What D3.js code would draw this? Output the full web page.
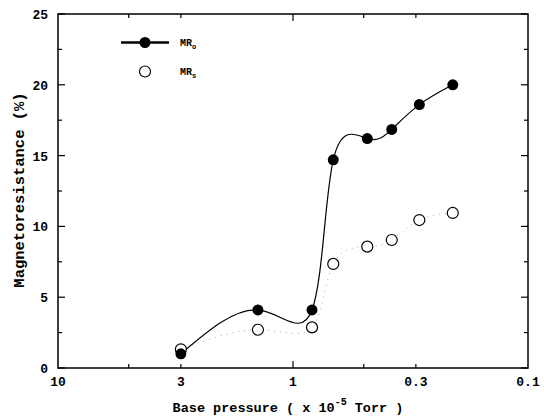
<!DOCTYPE html>
<html>
<head>
<meta charset="utf-8">
<script src="https://cdn.jsdelivr.net/npm/d3@7"></script>
<style>
body { margin: 0; background: #fff; }
text { font-family: "Liberation Mono", "DejaVu Sans Mono", monospace; font-weight: bold; }
</style>
</head>
<body>
<svg></svg>
<script>
// data
var pressure = [3, 1.41, 0.83, 0.674, 0.483, 0.38, 0.29, 0.209];
var mrO = [1.0, 4.1, 4.1, 14.7, 16.2, 16.85, 18.6, 20.0];
var mrS = [1.32, 2.7, 2.87, 7.35, 8.57, 9.04, 10.45, 10.95];
var xLabelTicks = [10, 3, 1, 0.3, 0.1];
var xMinorTicks = [5, 3, 0.5, 0.3];
var yTicks = [0, 5, 10, 15, 20, 25];
var yMinor = [2.5, 7.5, 12.5, 17.5, 22.5];

var svg = d3.select("svg")
    .attr("width", 544)
    .attr("height", 418);

var pLeft = 58, pRight = 528, pTop = 14, pBottom = 368;

var xScale = d3.scaleLog().domain([10, 0.1]).range([pLeft, pRight]),
    yScale = d3.scaleLinear().domain([0, 25]).range([pBottom, pTop]);

// frame
svg.append("rect")
    .attr("x", pLeft).attr("y", pTop)
    .attr("width", pRight - pLeft).attr("height", pBottom - pTop)
    .style("fill", "none").style("stroke", "#000").style("stroke-width", 1.5);

// x ticks (inward, bottom and top)
var xt = xMinorTicks.map(function(v){ return [v, 4]; }).concat([[1, 7]]);
xt.forEach(function(t){
    svg.append("line")
        .attr("x1", xScale(t[0])).attr("x2", xScale(t[0]))
        .attr("y1", pBottom).attr("y2", pBottom - t[1])
        .style("stroke", "#000").style("stroke-width", 1.2);
    svg.append("line")
        .attr("x1", xScale(t[0])).attr("x2", xScale(t[0]))
        .attr("y1", pTop).attr("y2", pTop + t[1])
        .style("stroke", "#000").style("stroke-width", 1.2);
});

// y ticks (inward, left and right)
var yt = yTicks.map(function(v){ return [v, 7]; }).concat(yMinor.map(function(v){ return [v, 4]; }));
yt.forEach(function(t){
    svg.append("line")
        .attr("x1", pLeft).attr("x2", pLeft + t[1])
        .attr("y1", yScale(t[0])).attr("y2", yScale(t[0]))
        .style("stroke", "#000").style("stroke-width", 1.2);
    svg.append("line")
        .attr("x1", pRight).attr("x2", pRight - t[1])
        .attr("y1", yScale(t[0])).attr("y2", yScale(t[0]))
        .style("stroke", "#000").style("stroke-width", 1.2);
});

// tick labels
svg.selectAll(".xl")
    .data(xLabelTicks)
    .enter()
    .append("text")
    .attr("x", function(d){ return xScale(d); })
    .attr("y", 386)
    .attr("text-anchor", "middle")
    .style("font-size", "13px")
    .text(function(d){ return d; });

svg.selectAll(".yl")
    .data(yTicks)
    .enter()
    .append("text")
    .attr("x", 48)
    .attr("y", function(d){ return yScale(d) + 5; })
    .attr("text-anchor", "end")
    .style("font-size", "13px")
    .text(function(d){ return d; });

// axis titles
var xt2 = svg.append("text")
    .attr("x", 288)
    .attr("y", 412)
    .attr("text-anchor", "middle")
    .style("font-size", "13.5px");
xt2.append("tspan").text("Base pressure ( x 10");
xt2.append("tspan").attr("dy", -7).style("font-size", "10px").text("-5");
xt2.append("tspan").attr("dy", 7).text(" Torr )");

svg.append("text")
    .attr("text-anchor", "middle")
    .attr("transform", "translate(24," + 190 + ")rotate(-90)")
    .style("font-size", "15.5px")
    .text("Magnetoresistance (%)");

var ptsO = pressure.map(function(p, i){ return [p, mrO[i]]; });
var ptsS = pressure.map(function(p, i){ return [p, mrS[i]]; });

var line = d3.line()
    .x(function(d){ return xScale(d[0]); })
    .y(function(d){ return yScale(d[1]); })
    .curve(d3.curveNatural);

svg.append("path")
    .datum(ptsS)
    .attr("d", line)
    .style("fill", "none")
    .style("stroke", "#aaa")
    .style("stroke-width", 1)
    .style("stroke-dasharray", "1,5");

svg.append("path")
    .datum(ptsO)
    .attr("d", line)
    .style("fill", "none")
    .style("stroke", "#000")
    .style("stroke-width", 1.2);

svg.append("g")
    .selectAll("circle")
    .data(ptsS)
    .enter()
    .append("circle")
    .attr("cx", function(d){ return xScale(d[0]); })
    .attr("cy", function(d){ return yScale(d[1]); })
    .attr("r", 5.5)
    .style("fill", "#fff")
    .style("stroke", "#000")
    .style("stroke-width", 1.2);

svg.append("g")
    .selectAll("circle")
    .data(ptsO)
    .enter()
    .append("circle")
    .attr("cx", function(d){ return xScale(d[0]); })
    .attr("cy", function(d){ return yScale(d[1]); })
    .attr("r", 5.5)
    .style("fill", "#000");

// legend
svg.append("line")
    .attr("x1", 121).attr("x2", 169)
    .attr("y1", 42.5).attr("y2", 42.5)
    .style("stroke", "#000").style("stroke-width", 2.5);
svg.append("circle")
    .attr("cx", 145).attr("cy", 42.5).attr("r", 5.5)
    .style("fill", "#000");
svg.append("circle")
    .attr("cx", 145).attr("cy", 71.5).attr("r", 5.5)
    .style("fill", "#fff").style("stroke", "#000").style("stroke-width", 1.2);

var lgO = svg.append("text").attr("x", 180).attr("y", 46).style("font-size", "10px");
lgO.append("tspan").text("MR");
lgO.append("tspan").attr("dy", 3).style("font-size", "7px").text("o");
var lgS = svg.append("text").attr("x", 180).attr("y", 75).style("font-size", "10px");
lgS.append("tspan").text("MR");
lgS.append("tspan").attr("dy", 3).style("font-size", "7px").text("s");
</script>
</body>
</html>
